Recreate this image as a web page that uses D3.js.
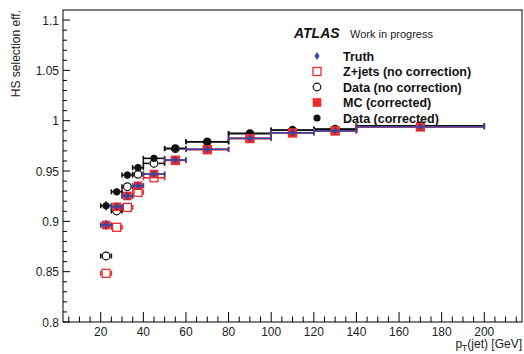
<!DOCTYPE html>
<html><head><meta charset="utf-8">
<script src="https://cdn.jsdelivr.net/npm/d3@7"></script>
<style>
html,body{margin:0;padding:0;background:#fff;}
svg{display:block;font-family:"Liberation Sans",Arial,Helvetica,sans-serif;}
</style></head>
<body><svg id="c" width="524" height="354"></svg>
<script>
// bin edges (GeV)
const binLow  = [20, 25, 30, 35, 40, 50, 60, 80, 100, 120, 140];
const binHigh = [25, 30, 35, 40, 50, 60, 80, 100, 120, 140, 200];
// efficiencies
const truth       = [0.8964, 0.9145, 0.9252, 0.9354, 0.9470, 0.9610, 0.9716, 0.9825, 0.9880, 0.9900, 0.9940];
const mcCorr      = [0.8964, 0.9145, 0.9252, 0.9354, 0.9470, 0.9610, 0.9716, 0.9825, 0.9880, 0.9900, 0.9940];
const zjetsNoCorr = [0.8484, 0.8941, 0.9139, 0.9288, 0.9433, 0.9605, 0.9712, 0.9822, 0.9878, 0.9898, 0.9938];
const dataNoCorr  = [0.8656, 0.9103, 0.9344, 0.9467, 0.9576, 0.9722, 0.9790, 0.9872, 0.9905, 0.9915, 0.9948];
const dataCorr    = [0.9155, 0.9294, 0.9460, 0.9533, 0.9626, 0.9725, 0.9791, 0.9874, 0.9907, 0.9917, 0.9950];
const yErr        = [0.003, 0.002, 0.002, 0.002, 0.0015, 0.0015, 0.001, 0.001, 0.001, 0.001, 0.001];
const yTicks = [0.8, 0.85, 0.9, 0.95, 1, 1.05, 1.1];
const xTicks = [20, 40, 60, 80, 100, 120, 140, 160, 180, 200];
const legendLabels = ["Truth", "Z+jets (no correction)", "Data (no correction)", "MC (corrected)", "Data (corrected)"];

const RED = "#ee2a2a", BLUE = "#3347a3", BLACK = "#111";
const svg = d3.select("#c");
const L = 63, R = 522, T = 10, B = 322;
const x = d3.scaleLinear().domain([2.3, 217.7]).range([L, R]);
const y = d3.scaleLinear().domain([0.8, 1.11]).range([B, T]);

// frame
svg.append("rect").attr("x", L).attr("y", T).attr("width", R - L).attr("height", B - T)
  .attr("fill", "none").attr("stroke", "#000").attr("stroke-width", 1);

// x ticks
const xMinor = d3.range(5, 216, 5);
const gx = svg.append("g");
xMinor.forEach(v => {
  const major = v % 20 === 0;
  gx.append("line").attr("x1", x(v)).attr("x2", x(v)).attr("y1", B).attr("y2", B - (major ? 10 : 5.5))
    .attr("stroke", "#000").attr("stroke-width", 1);
});
xTicks.forEach(v => {
  gx.append("text").attr("x", x(v)).attr("y", B + 13.5).attr("text-anchor", "middle")
    .attr("font-size", 12).attr("fill", "#222").text(v);
});
// y ticks
const gy = svg.append("g");
d3.range(0, 31).forEach(i => {
  const v = 0.8 + i * 0.01;
  const major = i % 5 === 0;
  gy.append("line").attr("x1", L).attr("x2", L + (major ? 7 : 4)).attr("y1", y(v)).attr("y2", y(v))
    .attr("stroke", "#000").attr("stroke-width", 1);
});
yTicks.forEach(v => {
  gy.append("text").attr("x", L - 4).attr("y", y(v) + 4.5).attr("text-anchor", "end")
    .attr("font-size", 12).attr("fill", "#222").text(String(v));
});

// axis titles
svg.append("text").attr("transform", "translate(20,10) rotate(-90)").attr("text-anchor", "end")
  .attr("font-size", 12).attr("fill", "#222").text("HS selection eff.");
const xt = svg.append("text").attr("x", R).attr("y", 348).attr("text-anchor", "end")
  .attr("font-size", 12).attr("fill", "#222");
xt.append("tspan").text("p");
xt.append("tspan").attr("font-size", 8.5).attr("dy", 2.5).text("T");
xt.append("tspan").attr("dy", -2.5).text("(jet) [GeV]");

// error bars (not drawn through the marker)
function bars(vals, color, gap) {
  const g = svg.append("g").attr("stroke", color).attr("stroke-width", 1.6).attr("fill", "none");
  vals.forEach((v, i) => {
    const yy = y(v), x0 = x(binLow[i]), x1 = x(binHigh[i]);
    const xc = x((binLow[i] + binHigh[i]) / 2);
    g.append("line").attr("x1", x0).attr("x2", xc - gap).attr("y1", yy).attr("y2", yy);
    g.append("line").attr("x1", xc + gap).attr("x2", x1).attr("y1", yy).attr("y2", yy);
    g.append("line").attr("x1", x0).attr("x2", x0).attr("y1", yy - 2.5).attr("y2", yy + 2.5);
    g.append("line").attr("x1", x1).attr("x2", x1).attr("y1", yy - 2.5).attr("y2", yy + 2.5);
    const ya = y(v + yErr[i]) - 1.5, yb = y(v - yErr[i]) + 1.5;
    if (yy - gap > ya) g.append("line").attr("x1", xc).attr("x2", xc).attr("y1", ya).attr("y2", yy - gap);
    if (yy + gap < yb) g.append("line").attr("x1", xc).attr("x2", xc).attr("y1", yy + gap).attr("y2", yb);
  });
}
function centers(i) { return x((binLow[i] + binHigh[i]) / 2); }

function openCircle(g, cx, cy) {
  g.append("circle").attr("cx", cx).attr("cy", cy).attr("r", 3.8).attr("fill", "none").attr("stroke", BLACK).attr("stroke-width", 1.2);
}
function filledCircle(g, cx, cy) {
  g.append("circle").attr("cx", cx).attr("cy", cy).attr("r", 3.6).attr("fill", BLACK);
}
function openSquare(g, cx, cy) {
  g.append("rect").attr("x", cx - 4).attr("y", cy - 4).attr("width", 8).attr("height", 8)
    .attr("fill", "none").attr("stroke", RED).attr("stroke-width", 1.3);
}
function filledSquare(g, cx, cy) {
  g.append("rect").attr("x", cx - 4.3).attr("y", cy - 4.3).attr("width", 8.6).attr("height", 8.6).attr("fill", RED);
}
function diamond(g, cx, cy) {
  g.append("path").attr("d", `M${cx},${cy - 4}L${cx + 2.5},${cy}L${cx},${cy + 4}L${cx - 2.5},${cy}Z`).attr("fill", BLUE);
}

// draw series
bars(dataNoCorr, BLACK, 4.3);
const g1 = svg.append("g"); dataNoCorr.forEach((v, i) => openCircle(g1, centers(i), y(v)));
bars(dataCorr, BLACK, 3);
const g2 = svg.append("g"); dataCorr.forEach((v, i) => filledCircle(g2, centers(i), y(v)));
bars(zjetsNoCorr, RED, 4.6);
const g3 = svg.append("g"); zjetsNoCorr.forEach((v, i) => openSquare(g3, centers(i), y(v)));
bars(mcCorr, RED, 3);
const g4 = svg.append("g"); mcCorr.forEach((v, i) => filledSquare(g4, centers(i), y(v)));
bars(truth, BLUE, 2);
const g5 = svg.append("g"); truth.forEach((v, i) => diamond(g5, centers(i), y(v)));

// ATLAS label
svg.append("text").attr("x", 294).attr("y", 38).attr("font-size", 14).attr("font-weight", "bold")
  .attr("font-style", "italic").attr("fill", "#111").text("ATLAS");
svg.append("text").attr("x", 350).attr("y", 38).attr("font-size", 11).attr("fill", "#222").text("Work in progress");

// legend
const lg = svg.append("g");
const rows = [56, 71.5, 87, 102.5, 118];
const mk = [diamond, openSquare, openCircle, filledSquare, filledCircle];
legendLabels.forEach((t, i) => {
  mk[i](lg, 317, rows[i]);
  lg.append("text").attr("x", 343).attr("y", rows[i] + 4.5).attr("font-size", 12.5).attr("font-weight", "bold")
    .attr("fill", "#111").text(t);
});
</script></body></html>
